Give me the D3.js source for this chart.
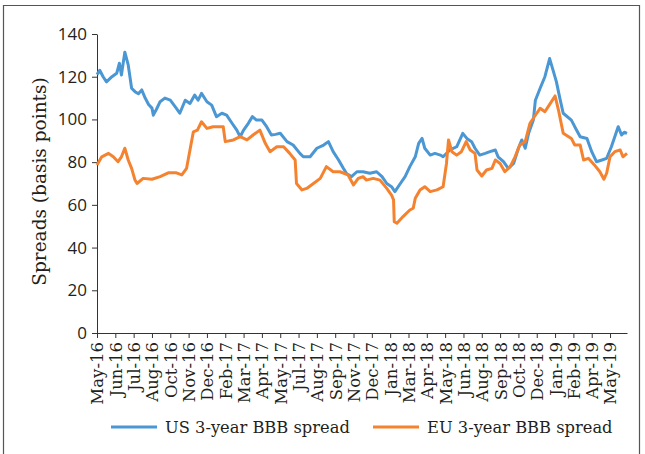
<!DOCTYPE html>
<html>
<head>
<meta charset="utf-8">
<script src="https://cdn.jsdelivr.net/npm/d3@7"></script>
<style>
  body { margin: 0; background: #fff; }
  svg text { fill: #231f20; }
  .serif { font-family: "DejaVu Serif", "Liberation Serif", serif; }
  .yaxis text { font-family: "Open Sans", "DejaVu Sans", sans-serif; font-size: 17px; }
</style>
</head>
<body>
<div id="chart"></div>
<script>
// month labels on the category axis, one every tickStep trading days
var monthLabels = ["May-16","Jun-16","Jul-16","Aug-16","Oct-16","Nov-16","Dec-16","Feb-17","Mar-17","Apr-17",
  "May-17","Jul-17","Aug-17","Sep-17","Nov-17","Dec-17","Jan-18","Mar-18","Apr-18","May-18","Jun-18",
  "Aug-18","Sep-18","Oct-18","Dec-18","Jan-19","Feb-19","Apr-19","May-19"];
var tickStep = 27,
    lastDay = 781;

var yTicks = [0, 20, 40, 60, 80, 100, 120, 140];

// [trading day, spread in bps]
var usSpread = [[0,121],[4,123],[9,120],[14,117.6],[22,120],[29,121.6],[33,126.3],[36,120.8],[41,131.5],[46,125.5],
  [51,114.6],[56,113],[61,112],[66,113.8],[71,110],[76,107],[81,105.3],[83,102],[88,105],[93,108.3],[100,110],
  [108,109],[117,105.2],[122,102.9],[130,109],[137,107.5],[144,111.4],[149,109],[154,112.2],[162,108.3],
  [169,106.7],[176,101.3],[184,102.9],[191,102],[199,98.2],[206,95],[211,91.9],[216,95],[223,98.2],[229,101.3],
  [235,99.7],[243,99.7],[250,96.6],[257,92.7],[263,93],[270,93.5],[280,89.6],[289,88],[299,84.1],[304,82.5],
  [314,82.5],[324,86.5],[334,88],[341,89.6],[348,84.9],[356,81],[363,77.1],[368,74.5],[375,73.2],[383,75.5],
  [392,75.5],[402,74.8],[412,75.5],[420,73.2],[427,70],[434,68.5],[439,66.2],[447,70],[454,73.2],[461,77.9],
  [469,82.5],[474,88.8],[479,91.1],[483,86.5],[491,83.3],[498,84.1],[506,83.3],[510,82.5],[520,85.7],[530,87.2],
  [539,93.5],[545,91.1],[552,89.6],[557,86.5],[564,83.3],[572,84.1],[579,84.9],[587,85.7],[591,82.5],[599,80.2],
  [606,77.1],[614,79.4],[621,86.5],[626,90.4],[631,86.5],[636,93.5],[643,99.7],[646,109],[653,114.6],[660,120],
  [667,128.5],[672,123.1],[677,117.6],[682,110],[687,102.9],[699,99.7],[704,96.6],[712,91.9],[722,91.1],
  [729,84.9],[736,80.2],[744,81],[751,81.8],[758,87.2],[768,96.6],[773,92.7],[777,94],[781,93.5]];

var euSpread = [[0,78.7],[7,82.5],[17,84.1],[24,82.5],[31,80.2],[36,82.5],[41,86.5],[46,81],[51,77.1],[56,71.6],
  [59,70],[68,72.4],[81,72],[93,73.2],[105,75],[117,75],[125,74],[132,77.1],[137,85.7],[142,94.2],[148,95],
  [154,98.9],[162,95.8],[171,96.6],[186,96.6],[189,89.6],[201,90.4],[211,91.9],[221,90.4],[230,92.7],[240,95],
  [248,88.8],[255,84.9],[265,87.2],[275,87.2],[284,84.1],[292,81],[294,70],[302,67],[309,67.7],[319,70],
  [329,72.4],[338,77.9],[348,75.5],[358,75.5],[370,74],[378,69.3],[385,72.4],[392,73.2],[397,71.6],[407,72.4],
  [417,71.6],[427,67.7],[434,64.6],[437,62.3],[438,52.1],[442,51.4],[451,54.5],[461,57.6],[466,58.4],[469,63.1],
  [476,67],[483,68.5],[491,66.2],[501,67],[510,68.5],[515,79.4],[518,90.4],[523,84.9],[530,83.3],[537,84.9],
  [544,89.6],[550,85.7],[557,84.1],[560,76.3],[567,73.5],[574,76.3],[582,77.1],[587,81],[594,79.4],[601,75.5],
  [609,77.9],[616,82.5],[623,88],[631,89.6],[638,98.2],[648,102.9],[653,105.2],[660,103.6],[668,107.5],
  [675,111],[680,104.4],[687,93.5],[699,91.1],[704,88],[712,88],[717,81],[724,81.8],[733,78.7],[741,75.5],
  [747,72],[751,74.8],[756,82.5],[763,84.9],[771,85.7],[775,82.5],[781,84.1]];

var series = [
  {name: "US 3-year BBB spread", values: usSpread, color: "#4a97d4"},
  {name: "EU 3-year BBB spread", values: euSpread, color: "#f5822f"}
];

var width = 645, height = 454,
    margin = {top: 34, right: 18, bottom: 121, left: 97};

var svg = d3.select("#chart").append("svg")
    .attr("width", width)
    .attr("height", height);

// frame round the figure
svg.append("path").attr("d", "M3.5,470V5.5H639.5V470")
    .attr("fill", "none").attr("stroke", "#555").attr("stroke-width", 1.2);

var x = d3.scaleLinear().domain([0, lastDay]).range([margin.left, width - margin.right]);
var y = d3.scaleLinear().domain([0, 140]).range([height - margin.bottom, margin.top]);

var xAxis = d3.axisBottom(x)
    .tickValues(monthLabels.map(function(d, i) { return i * tickStep; }))
    .tickFormat(function(d) { return monthLabels[d / tickStep]; })
    .tickSizeInner(5).tickSizeOuter(0);

var gx = svg.append("g")
    .attr("transform", "translate(0," + y(0) + ")")
    .call(xAxis);
gx.selectAll("text")
    .attr("class", "serif")
    .style("font-size", "16.5px")
    .attr("transform", "rotate(-90)")
    .attr("text-anchor", "end")
    .attr("x", -9).attr("y", 0).attr("dy", "0.36em");

var gy = svg.append("g")
    .attr("class", "yaxis")
    .attr("transform", "translate(" + margin.left + ",0)")
    .call(d3.axisLeft(y).tickValues(yTicks).tickSizeInner(5).tickSizeOuter(0).tickPadding(5));

svg.selectAll(".domain, .tick line").attr("stroke", "#333");

svg.append("text")
    .attr("class", "serif")
    .attr("transform", "translate(40," + (y(70) - 2) + ") rotate(-90)")
    .attr("text-anchor", "middle")
    .attr("dy", "0.35em")
    .style("font-size", "18.5px")
    .text("Spreads (basis points)");

var line = d3.line()
    .x(function(d) { return x(d[0]); })
    .y(function(d) { return y(d[1]); });

svg.selectAll(".series")
    .data(series)
  .enter().append("path")
    .attr("class", "series")
    .attr("fill", "none")
    .attr("stroke", function(d) { return d.color; })
    .attr("stroke-width", 3)
    .attr("stroke-linejoin", "round")
    .attr("d", function(d) { return line(d.values); });

// legend
var legendX = [111, 373];
var legend = svg.selectAll(".legend")
    .data(series)
  .enter().append("g")
    .attr("class", "legend")
    .attr("transform", function(d, i) { return "translate(" + legendX[i] + ",427)"; });
legend.append("line")
    .attr("x1", 0).attr("x2", 46)
    .attr("stroke", function(d) { return d.color; })
    .attr("stroke-width", 3);
legend.append("text")
    .attr("class", "serif")
    .attr("x", 54)
    .attr("dy", "0.35em")
    .style("font-size", "16.3px")
    .text(function(d) { return d.name; });
</script>
</body>
</html>
